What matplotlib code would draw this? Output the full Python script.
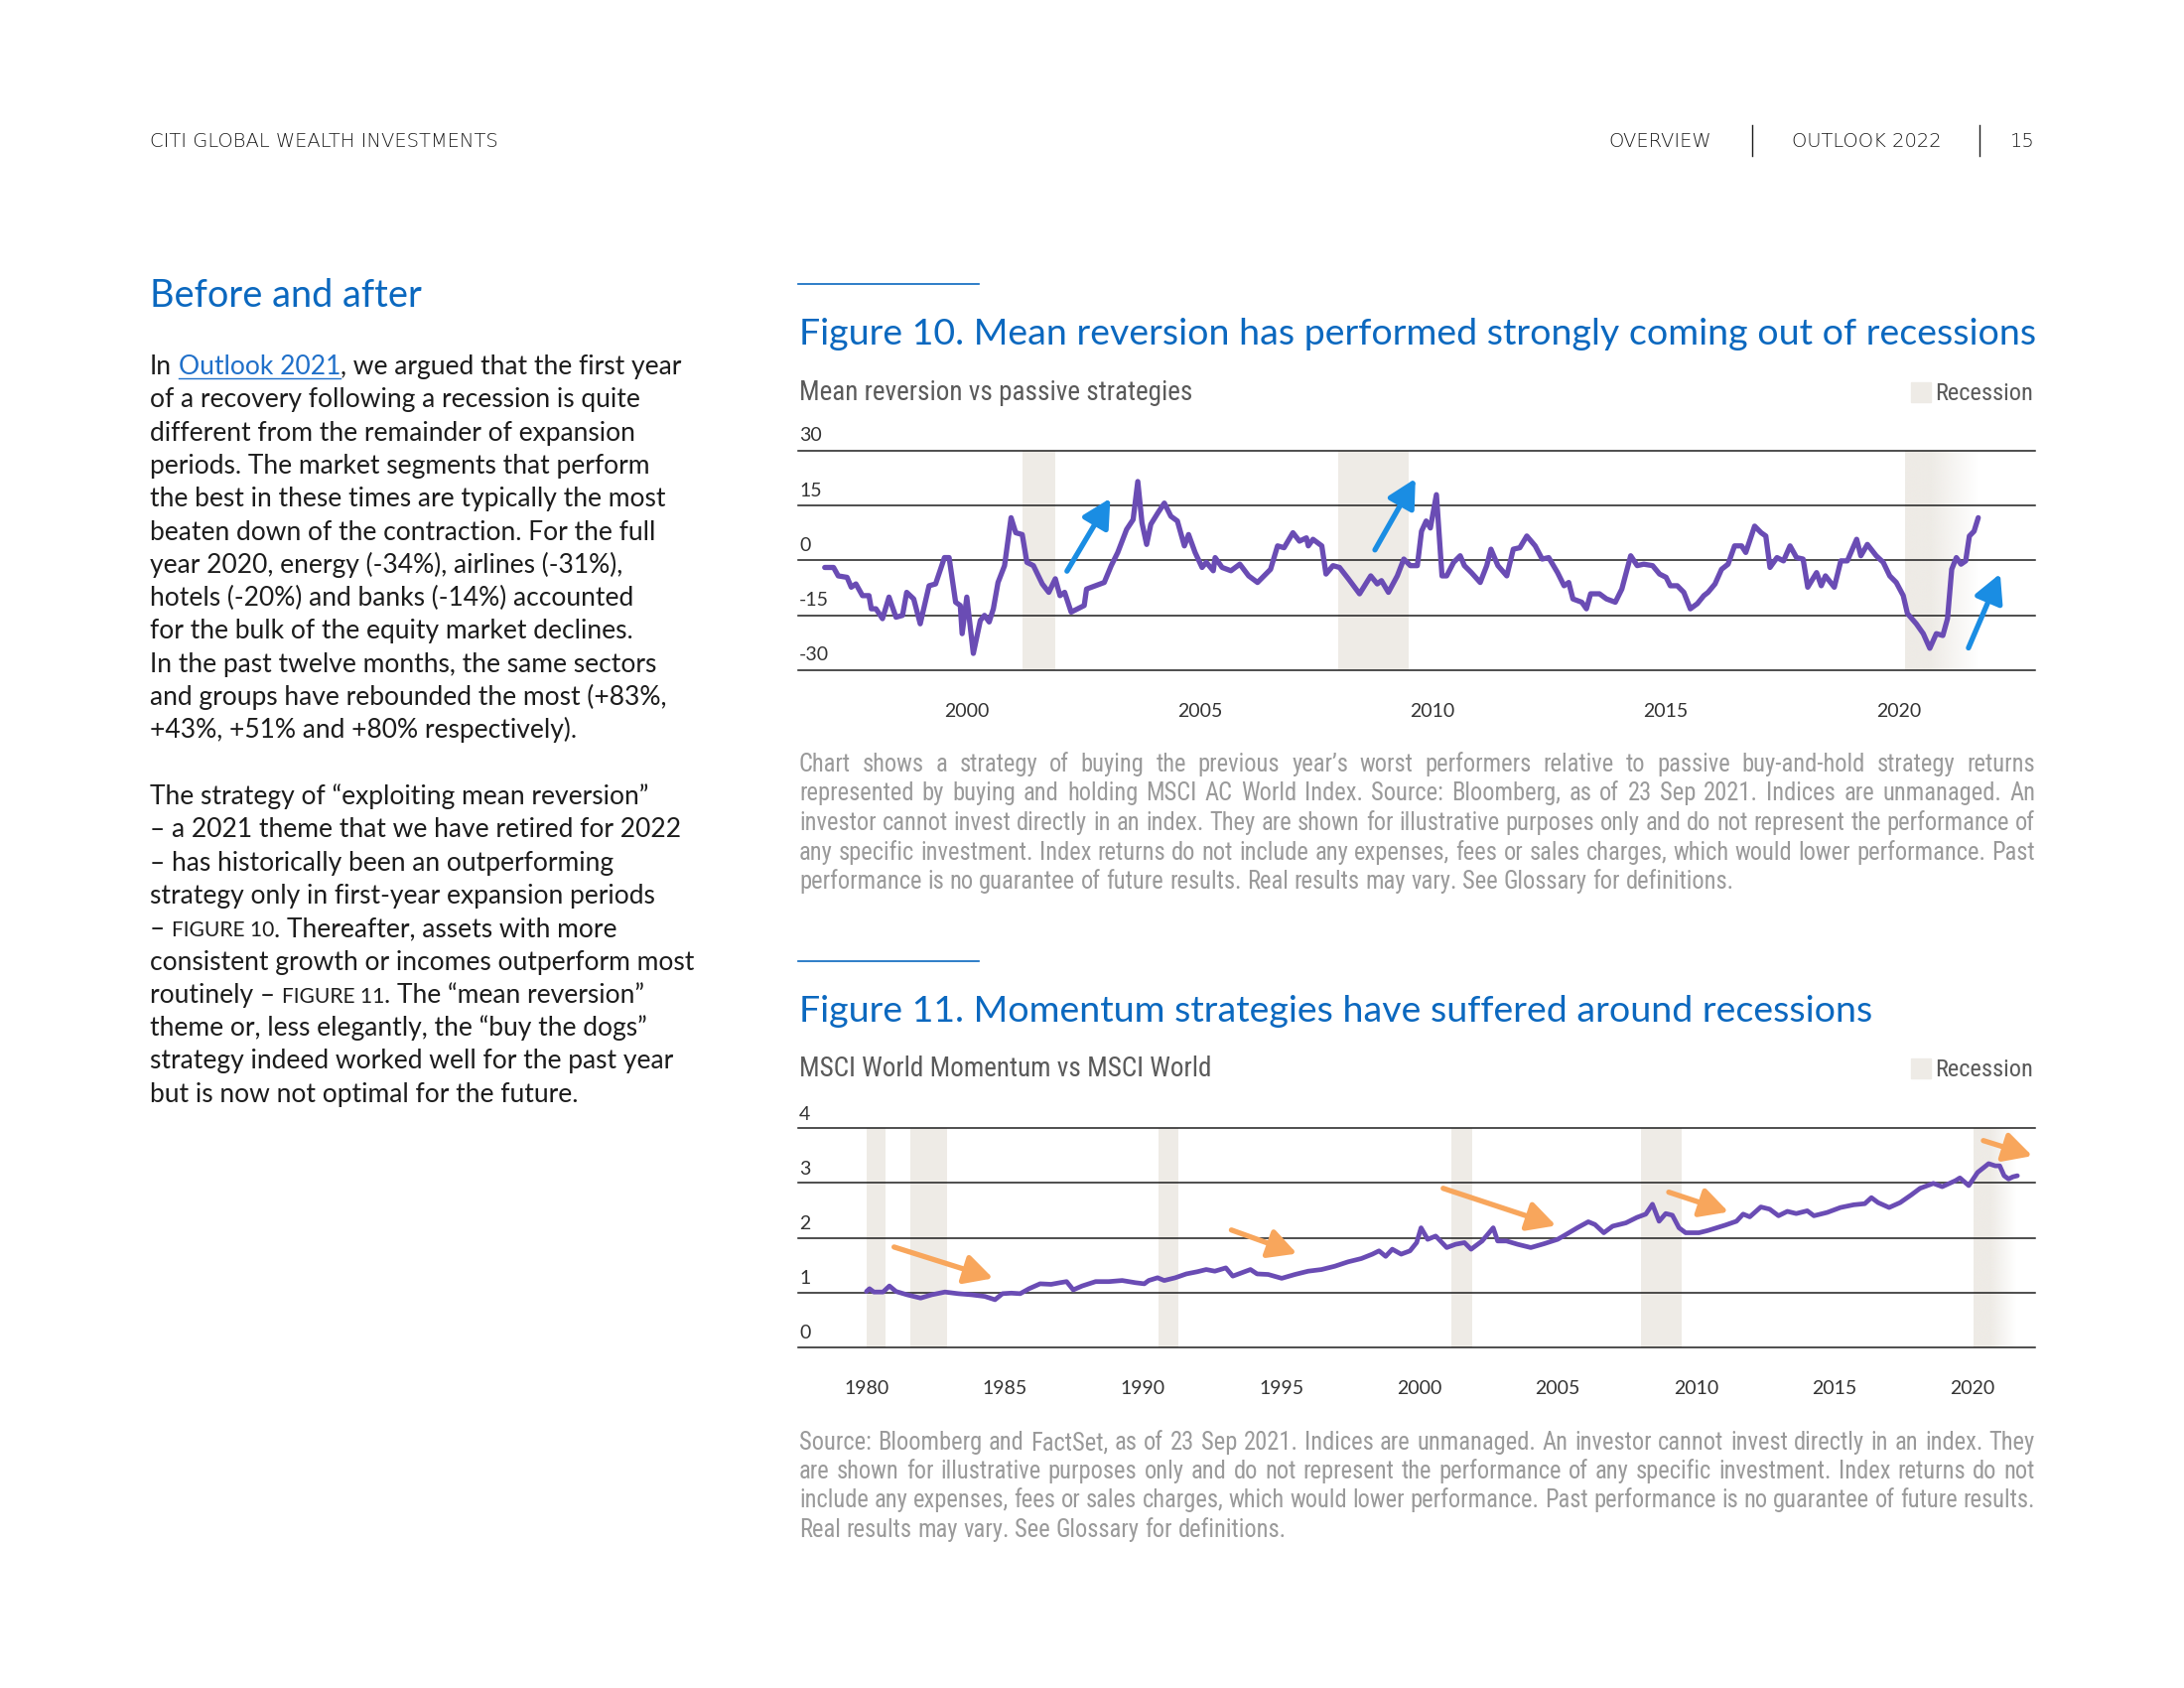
import re
import numpy as np
import matplotlib
matplotlib.use("Agg")
import matplotlib.pyplot as plt
from matplotlib import font_manager
from matplotlib.colors import to_rgb
from matplotlib.lines import Line2D
from matplotlib.patches import Rectangle
from matplotlib.transforms import offset_copy

# ---------------- data ----------------
mr_years = [1996.95, 1997.14, 1997.24, 1997.43, 1997.52, 1997.62, 1997.76, 1997.9, 1997.95, 1998.05,
            1998.19, 1998.33, 1998.48, 1998.62, 1998.71, 1998.86, 1999.0, 1999.19, 1999.33, 1999.52,
            1999.62, 1999.76, 1999.86, 1999.9, 2000.0, 2000.14, 2000.29, 2000.38, 2000.48, 2000.57,
            2000.67, 2000.81, 2000.95, 2001.05, 2001.19, 2001.29, 2001.43, 2001.62, 2001.76, 2001.9,
            2002.0, 2002.1, 2002.24, 2002.38, 2002.52, 2002.57, 2002.76, 2002.95, 2003.1, 2003.24,
            2003.43, 2003.57, 2003.67, 2003.76, 2003.86, 2003.95, 2004.1, 2004.24, 2004.38, 2004.52,
            2004.67, 2004.76, 2004.9, 2005.05, 2005.14, 2005.29, 2005.33, 2005.48, 2005.67, 2005.86,
            2006.05, 2006.24, 2006.38, 2006.52, 2006.67, 2006.81, 2007.0, 2007.14, 2007.29, 2007.33,
            2007.43, 2007.62, 2007.71, 2007.86, 2008.0, 2008.19, 2008.43, 2008.67, 2008.81, 2008.9,
            2009.05, 2009.24, 2009.38, 2009.52, 2009.67, 2009.76, 2009.86, 2009.95, 2010.08,
            2010.2, 2010.3, 2010.45, 2010.59, 2010.68, 2010.83, 2011.02, 2011.16, 2011.25, 2011.4,
            2011.59, 2011.73, 2011.87, 2012.02, 2012.2, 2012.35, 2012.49, 2012.68, 2012.82, 2012.92,
            2013.01, 2013.2, 2013.3, 2013.39, 2013.58, 2013.73, 2013.92, 2014.06, 2014.25, 2014.39,
            2014.53, 2014.72, 2014.87, 2015.01, 2015.1, 2015.25, 2015.39, 2015.53, 2015.68, 2015.82,
            2015.91, 2016.06, 2016.2, 2016.34, 2016.48, 2016.63, 2016.72, 2016.91, 2017.05, 2017.15,
            2017.24, 2017.39, 2017.53, 2017.67, 2017.81, 2017.95, 2018.05, 2018.24, 2018.34, 2018.43,
            2018.62, 2018.76, 2018.9, 2019.1, 2019.19, 2019.33, 2019.52, 2019.67, 2019.81, 2019.95,
            2020.1, 2020.19, 2020.38, 2020.53, 2020.67, 2020.81, 2020.95, 2021.05, 2021.14, 2021.24,
            2021.34, 2021.44, 2021.52, 2021.62, 2021.71]
mr_values = [-1.9, -1.9, -4.2, -4.6, -7.3, -6.4, -9.6, -9.6, -13.2, -13.2,
             -15.9, -10.0, -15.5, -15.0, -8.7, -10.5, -17.3, -6.9, -6.4, 0.8,
             0.8, -11.4, -12.3, -20.0, -10.0, -25.4, -16.4, -15.0, -16.8, -13.2,
             -6.0, -1.4, 11.7, 7.6, 7.1, -0.5, -1.4, -6.4, -8.7, -5.0,
             -9.6, -8.7, -14.1, -13.2, -12.3, -7.8, -6.9, -6.0, -1.4, 2.2,
             8.5, 11.2, 21.6, 10.3, 4.4, 9.9, 13.0, 15.7, 12.1, 10.8,
             4.0, 7.1, 2.2, -1.9, -0.5, -2.8, 0.8, -1.9, -2.8, -1.0,
             -4.2, -6.0, -4.2, -2.4, 4.0, 3.5, 7.6, 5.3, 6.2, 4.0,
             5.8, 4.0, -3.7, -1.4, -1.9, -5.0, -9.1, -4.2, -6.4, -5.5,
             -8.7, -4.2, 0.4, -1.4, -1.4, 8.0, 10.8, 8.9, 18.0,
             -4.2, -4.2, -0.5, 1.3, -1.4, -3.3, -6.0, -1.4, 3.1, -1.4,
             -4.2, 3.1, 3.5, 6.7, 4.0, 0.4, 0.8, -3.3, -6.9, -6.0,
             -10.5, -11.4, -13.2, -9.1, -9.1, -10.5, -11.4, -7.8, 1.3, -1.4,
             -1.0, -1.4, -3.7, -4.6, -6.9, -6.9, -8.7, -13.2, -11.8, -9.6,
             -8.7, -6.4, -2.4, -1.0, 4.0, 4.0, 2.2, 9.4, 7.6, 6.7,
             -1.9, 0.8, -0.1, 4.0, 0.8, 0.4, -7.3, -3.3, -6.9, -4.2,
             -7.3, -0.1, -0.1, 5.8, 1.3, 4.4, 1.3, -0.5, -4.2, -6.0,
             -9.6, -14.5, -17.3, -20.0, -24.0, -20.0, -20.5, -15.9, -2.4, 0.8,
             -1.0, -0.1, 6.7, 8.0, 11.7]

mom_years = [1980.0, 1980.11, 1980.27, 1980.6, 1980.83, 1981.07, 1981.47, 1981.96, 1982.36, 1982.84,
             1983.32, 1983.8, 1984.28, 1984.65, 1984.92, 1985.24, 1985.56, 1985.88, 1986.28, 1986.68,
             1987.0, 1987.24, 1987.48, 1987.8, 1988.29, 1988.77, 1989.25, 1989.73, 1990.05, 1990.21,
             1990.53, 1990.77, 1991.17, 1991.57, 1991.97, 1992.29, 1992.6, 1993.0, 1993.25, 1993.57,
             1993.89, 1994.13, 1994.53, 1995.02, 1995.5, 1995.98, 1996.46, 1996.94, 1997.42, 1997.9,
             1998.3, 1998.54, 1998.78, 1999.02, 1999.34, 1999.66, 1999.9, 2000.06, 2000.3, 2000.59,
             2000.99, 2001.31, 2001.63, 2001.87, 2002.27, 2002.67, 2002.83, 2003.15, 2003.55, 2004.03,
             2004.51, 2005.0, 2005.31, 2005.71, 2006.11, 2006.35, 2006.67, 2006.99, 2007.47, 2007.87,
             2008.19, 2008.43, 2008.67, 2008.91, 2009.15, 2009.39, 2009.63, 2010.11, 2010.43, 2010.75,
             2011.07, 2011.47, 2011.71, 2011.95, 2012.35, 2012.67, 2012.99, 2013.31, 2013.63, 2014.03,
             2014.27, 2014.75, 2015.23, 2015.71, 2016.11, 2016.35, 2016.59, 2016.99, 2017.39, 2017.79,
             2018.11, 2018.59, 2018.91, 2019.39, 2019.55, 2019.87, 2020.19, 2020.59, 2020.83, 2020.99,
             2021.15, 2021.31, 2021.47, 2021.63]
mom_values = [1.02, 1.07, 1.01, 1.01, 1.12, 1.02, 0.96, 0.90, 0.96, 1.01,
              0.98, 0.96, 0.93, 0.87, 0.98, 0.99, 0.98, 1.07, 1.16, 1.15,
              1.18, 1.20, 1.05, 1.12, 1.20, 1.20, 1.22, 1.18, 1.16, 1.22,
              1.27, 1.22, 1.27, 1.34, 1.38, 1.42, 1.39, 1.45, 1.30, 1.36,
              1.42, 1.34, 1.33, 1.26, 1.33, 1.39, 1.42, 1.48, 1.56, 1.62,
              1.70, 1.76, 1.66, 1.79, 1.70, 1.76, 1.91, 2.18, 1.97, 2.03,
              1.82, 1.88, 1.91, 1.79, 1.94, 2.18, 1.94, 1.94, 1.88, 1.82,
              1.89, 1.97, 2.06, 2.18, 2.29, 2.24, 2.09, 2.21, 2.27, 2.37,
              2.43, 2.61, 2.30, 2.44, 2.41, 2.18, 2.09, 2.09, 2.13, 2.18,
              2.23, 2.30, 2.43, 2.38, 2.56, 2.52, 2.40, 2.48, 2.44, 2.49,
              2.40, 2.46, 2.55, 2.60, 2.62, 2.73, 2.64, 2.55, 2.64, 2.78,
              2.90, 2.99, 2.93, 3.04, 3.09, 2.95, 3.19, 3.35, 3.31, 3.31,
              3.13, 3.07, 3.11, 3.13]

mr_recessions = [(2001.2, 2001.9), (2007.98, 2009.48)]
mr_recession_fade = (2020.14, 2020.67, 2021.7)
mom_recessions = [(1980.0, 1980.7), (1981.6, 1982.9), (1990.56, 1991.27), (2001.15, 2001.9), (2008.0, 2009.5)]
mom_recession_fade = (2020.06, 2020.67, 2021.6)

mr_arrows = [((2002.15, -2.9), (2003.08, 17.0)),
             ((2008.76, 2.9), (2009.63, 22.4)),
             ((2021.5, -23.9), (2022.18, -3.6))]
mom_arrows = [((1981.0, 1.83), (1984.58, 1.26)),
              ((1993.2, 2.14), (1995.57, 1.71)),
              ((2000.86, 2.90), (2004.94, 2.22)),
              ((2009.02, 2.83), (2011.18, 2.47)),
              ((2020.4, 3.77), (2022.17, 3.49))]

mr_yticks = [-30, -15, 0, 15, 30]
mr_xticks = [2000, 2005, 2010, 2015, 2020]
mom_yticks = [0, 1, 2, 3, 4]
mom_xticks = [1980, 1985, 1990, 1995, 2000, 2005, 2010, 2015, 2020]

body_top = [
    "In {{Outlook 2021}}, we argued that the first year",
    "of a recovery following a recession is quite",
    "different from the remainder of expansion",
    "periods. The market segments that perform",
    "the best in these times are typically the most",
    "beaten down of the contraction. For the full",
    "year 2020, energy (-34%), airlines (-31%),",
    "hotels (-20%) and banks (-14%) accounted",
    "for the bulk of the equity market declines.",
    "In the past twelve months, the same sectors",
    "and groups have rebounded the most (+83%,",
    "+43%, +51% and +80% respectively).",
]
body_bottom = [
    "The strategy of “exploiting mean reversion”",
    "– a 2021 theme that we have retired for 2022",
    "– has historically been an outperforming",
    "strategy only in first-year expansion periods",
    "– [[FIGURE 10]]. Thereafter, assets with more",
    "consistent growth or incomes outperform most",
    "routinely – [[FIGURE 11]]. The “mean reversion”",
    "theme or, less elegantly, the “buy the dogs”",
    "strategy indeed worked well for the past year",
    "but is now not optimal for the future.",
]
caption10 = [
    "Chart shows a strategy of buying the previous year’s worst performers relative to passive buy-and-hold strategy returns",
    "represented by buying and holding MSCI AC World Index. Source: Bloomberg, as of 23 Sep 2021. Indices are unmanaged. An",
    "investor cannot invest directly in an index. They are shown for illustrative purposes only and do not represent the performance of",
    "any specific investment. Index returns do not include any expenses, fees or sales charges, which would lower performance. Past",
    "performance is no guarantee of future results. Real results may vary. See Glossary for definitions.",
]
caption11 = [
    "Source: Bloomberg and FactSet, as of 23 Sep 2021. Indices are unmanaged. An investor cannot invest directly in an index. They",
    "are shown for illustrative purposes only and do not represent the performance of any specific investment. Index returns do not",
    "include any expenses, fees or sales charges, which would lower performance. Past performance is no guarantee of future results.",
    "Real results may vary. See Glossary for definitions.",
]

# ---------------- styles ----------------
BLUE = "#0b68bf"
LINK = "#1f6fc9"
PURPLE = "#6a4cb4"
BAND = "#eeebe6"
ARROW_BLUE = "#1a8de3"
ARROW_ORANGE = "#f8a65c"
TEXT = "#1c1c1c"
TICK = "#333333"
GREY = "#5a5a5a"
CAPTION = "#9a9a9a"
GRID = "#1e1e1e"

names = {f.name for f in font_manager.fontManager.ttflist}
BODY = "Lato" if "Lato" in names else "DejaVu Sans"
NARROW = "DejaVu Sans"
for cand in ["Liberation Sans Narrow", "Roboto Condensed", "DejaVu Sans Condensed"]:
    if cand in names:
        NARROW = cand
        break

W, H = 2200, 1700
fig = plt.figure(figsize=(22, 17), dpi=100)
fig.patch.set_facecolor("white")
renderer = fig.canvas.get_renderer()


def fx(x):
    return x / W


def fy(y):
    return 1 - y / H


def width_of(s, **kw):
    t = fig.text(0, 0, s, **kw)
    w = t.get_window_extent(renderer).width
    t.remove()
    return w


def fit(s, target, **kw):
    return 10 * target / width_of(s, fontsize=10, **kw)


def space_width(size, family):
    return width_of("n n", fontsize=size, family=family) - width_of("nn", fontsize=size, family=family)


def draw_line(x, y, text, size, family, color):
    sp = space_width(size, family)
    for p in re.split(r"(\{\{.*?\}\}|\[\[.*?\]\])", text):
        if not p:
            continue
        kw = dict(fontsize=size, family=family, color=color)
        link = False
        if p.startswith("{{"):
            p = p[2:-2]
            kw["color"] = LINK
            link = True
        elif p.startswith("[["):
            p = p[2:-2]
            kw["fontsize"] = size * 0.8
        if p.startswith(" "):
            x += sp
        t = fig.text(fx(x), fy(y), p.strip(), ha="left", va="baseline", **kw)
        w = t.get_window_extent(renderer).width
        if link:
            fig.add_artist(Line2D([fx(x), fx(x + w)], [fy(y + 4), fy(y + 4)], color=LINK, lw=1.0))
        x += w
        if p.endswith(" "):
            x += sp


def justify(lines, x0, x1, y0, dy, size, family, color):
    sp = space_width(size, family)
    for i, line in enumerate(lines):
        words = line.split()
        ws = [width_of(w, fontsize=size, family=family) for w in words]
        gap = sp if i == len(lines) - 1 else (x1 - x0 - sum(ws)) / (len(words) - 1)
        x = x0
        for w, ww in zip(words, ws):
            fig.text(fx(x), fy(y0 + i * dy), w, ha="left", va="baseline",
                     fontsize=size, family=family, color=color)
            x += ww + gap


# ---------------- page header ----------------
hdr = dict(fontsize=14, family="DejaVu Sans", weight="light", color=TEXT, va="baseline")
fig.text(fx(151), fy(148), "CITI GLOBAL WEALTH INVESTMENTS", ha="left", **hdr)
fig.text(fx(1672), fy(148), "OVERVIEW", ha="center", **hdr)
fig.text(fx(1880), fy(148), "OUTLOOK 2022", ha="center", **hdr)
fig.text(fx(2050), fy(148), "15", ha="right", **hdr)
for xv in (1765, 1994):
    fig.add_artist(Line2D([fx(xv), fx(xv)], [fy(126), fy(157)], color=TEXT, lw=1.0))

# ---------------- left column ----------------
fig.text(fx(151), fy(309), "Before and after", fontsize=fit("Before and after", 274, family=BODY),
         family=BODY, color=BLUE, ha="left", va="baseline")
body_size = fit("In Outlook 2021, we argued that the first year", 533, family=BODY)
for i, line in enumerate(body_top):
    draw_line(151, 377 + i * 33.3, line, body_size, BODY, TEXT)
for i, line in enumerate(body_bottom):
    draw_line(151, 810 + i * 33.3, line, body_size, BODY, TEXT)

# ---------------- figure headings ----------------
title10 = "Figure 10. Mean reversion has performed strongly coming out of recessions"
title11 = "Figure 11. Momentum strategies have suffered around recessions"
title_size = fit(title10, 1245, family=BODY)
sub_size = fit("Mean reversion vs passive strategies", 392, family=NARROW)
tick_size = fit("2000", 45, family=BODY)

for rule_y, title, title_y, sub, sub_y in [
        (286, title10, 347, "Mean reversion vs passive strategies", 403),
        (968, title11, 1029, "MSCI World Momentum vs MSCI World", 1084)]:
    fig.add_artist(Line2D([fx(804), fx(986)], [fy(rule_y), fy(rule_y)], color=BLUE, lw=1.2))
    fig.text(fx(805), fy(title_y), title, fontsize=title_size, family=BODY, color=BLUE,
             ha="left", va="baseline")
    fig.text(fx(805), fy(sub_y), sub, fontsize=sub_size, family=NARROW, color=GREY,
             ha="left", va="baseline")
    fig.add_artist(Rectangle((fx(1925), fy(sub_y + 2)), fx(20), 20 / H, color=BAND,
                             transform=fig.transFigure))
    fig.text(fx(2048), fy(sub_y), "Recession", fontsize=sub_size * 0.9, family=NARROW, color=GREY,
             ha="right", va="baseline")


# ---------------- charts ----------------
def fade_band(ax, x0, x1, x2, y0, y1):
    n = 200
    xs = np.linspace(x0, x2, n)
    alpha = np.clip((x2 - xs) / (x2 - x1), 0, 1)
    img = np.zeros((1, n, 4))
    img[..., :3] = to_rgb(BAND)
    img[..., 3] = alpha
    ax.imshow(img, extent=[x0, x2, y0, y1], aspect="auto", zorder=0, interpolation="bilinear")


def build(rect, xlim, years, values, recessions, fade, arrows, arrow_color, yticks, xticks, lab_off, lw):
    ax = fig.add_axes(rect)
    ax.set_facecolor("none")
    for s in ax.spines.values():
        s.set_visible(False)
    y0, y1 = yticks[0], yticks[-1]
    for a, b in recessions:
        ax.axvspan(a, b, color=BAND, lw=0, zorder=0)
    fade_band(ax, *fade, y0, y1)
    for v in yticks:
        ax.axhline(v, color=GRID, lw=1.1, zorder=1, clip_on=False)
        ax.text(0.0, v, str(v), transform=offset_copy(ax.get_yaxis_transform(), fig=fig, x=1, y=lab_off,
                                                       units="dots"),
                ha="left", va="center", fontsize=tick_size, family=BODY, color=TICK)
    ax.plot(years, values, color=PURPLE, lw=lw, solid_joinstyle="round", solid_capstyle="round", zorder=3)
    for start, end in arrows:
        ax.annotate("", xy=end, xytext=start, zorder=4,
                    arrowprops=dict(arrowstyle="-|>,head_width=0.5,head_length=0.95", color=arrow_color,
                                    lw=3.8, mutation_scale=18, shrinkA=0, shrinkB=0))
    ax.set_xlim(*xlim)
    ax.set_ylim(y0, y1)
    ax.set_yticks([])
    ax.set_xticks(xticks)
    ax.set_xticklabels([str(t) for t in xticks])
    ax.tick_params(axis="x", length=0, pad=24, labelsize=tick_size, labelcolor=TICK)
    for lab in ax.get_xticklabels():
        lab.set_family(BODY)
    return ax


build([fx(804), fy(675), 1246 / W, 221 / H], (1996.38, 2022.93), mr_years, mr_values,
      mr_recessions, mr_recession_fade, mr_arrows, ARROW_BLUE, mr_yticks, mr_xticks, 15, 3.8)
build([fx(804), fy(1357), 1246 / W, 221 / H], (1977.53, 2022.27), mom_years, mom_values,
      mom_recessions, mom_recession_fade, mom_arrows, ARROW_ORANGE, mom_yticks, mom_xticks, 14, 3.4)

# ---------------- captions ----------------
cap_size = fit(caption10[2], 1235, family=NARROW)
justify(caption10, 805, 2050, 777, 29.5, cap_size, NARROW, CAPTION)
justify(caption11, 805, 2050, 1460, 29.2, cap_size, NARROW, CAPTION)

fig.savefig("out.png", dpi=100, facecolor="white")
